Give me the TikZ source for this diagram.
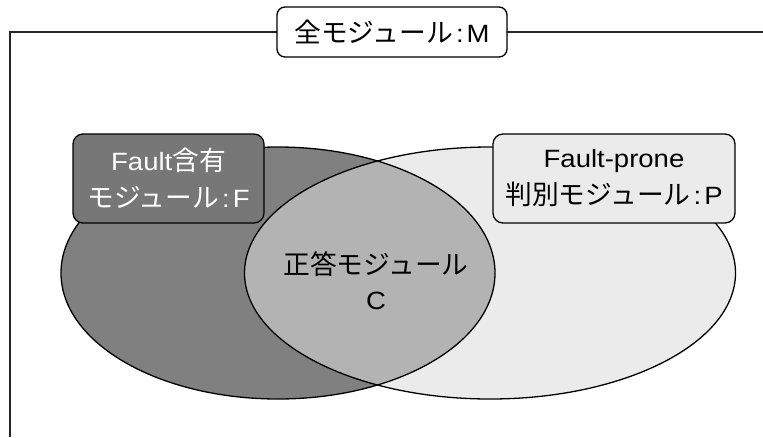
\documentclass[tikz,border=0pt]{standalone}
\usepackage{fontspec}
\setmainfont{Liberation Sans}[FakeStretch=1.1]
\newfontfamily\jp{Noto Sans CJK JP}[Scale=1.07]
\definecolor{fell}{HTML}{808080}
\definecolor{fboxc}{HTML}{777777}
\definecolor{pell}{HTML}{EBEBEB}
\definecolor{pboxc}{HTML}{EBEBEB}
\definecolor{cfill}{HTML}{B3B3B3}
\newcommand{\cln}{\hspace{3pt}:\hspace{3pt}}
\begin{document}
\begin{tikzpicture}[x=1pt,y=-1pt,
  outl/.style={draw=black,line width=1.3pt},
  lbl/.style={font=\fontsize{25}{37}\selectfont,align=center,inner sep=0pt},
  boxc/.style={lbl,outl,rounded corners=10pt}]
\useasboundingbox (0,0) rectangle (763,437);
% frame
\coordinate (fr1) at (763,32);
\coordinate (fr2) at (10,32);
\coordinate (fr3) at (10,437);
\draw[line width=1.3pt,draw=black!85] (fr1) -- (fr2) -- (fr3);
% ellipses
\fill[fell] (278,273) ellipse [x radius=217, y radius=126];
\fill[pell] (490,273) ellipse [x radius=245.5, y radius=126];
\begin{scope}
\clip (278,273) ellipse [x radius=217, y radius=126];
\fill[cfill] (490,273) ellipse [x radius=245.5, y radius=126];
\end{scope}
\draw[outl] (278,273) ellipse [x radius=217, y radius=126];
\draw[outl] (490,273) ellipse [x radius=245.5, y radius=126];
% labels
\node[boxc,fill=white,minimum width=230,minimum height=50,rounded corners=8pt] (M) at (392,32) {{\jp 全モジュール}\cln M};
\node[boxc,fill=fboxc,text=white,minimum width=191,minimum height=89] (F) at (168.5,178.5) {Fault{\jp 含有}\\{\jp モジュール}\cln F};
\node[boxc,fill=pboxc,minimum width=242,minimum height=89] (P) at (614,178.5) {Fault-prone\\{\jp 判別モジュール}\cln P};
\node[lbl,font=\fontsize{25}{35}\selectfont] (C) at (376,281) {{\jp 正答モジュール}\\C};
\end{tikzpicture}
\end{document}
